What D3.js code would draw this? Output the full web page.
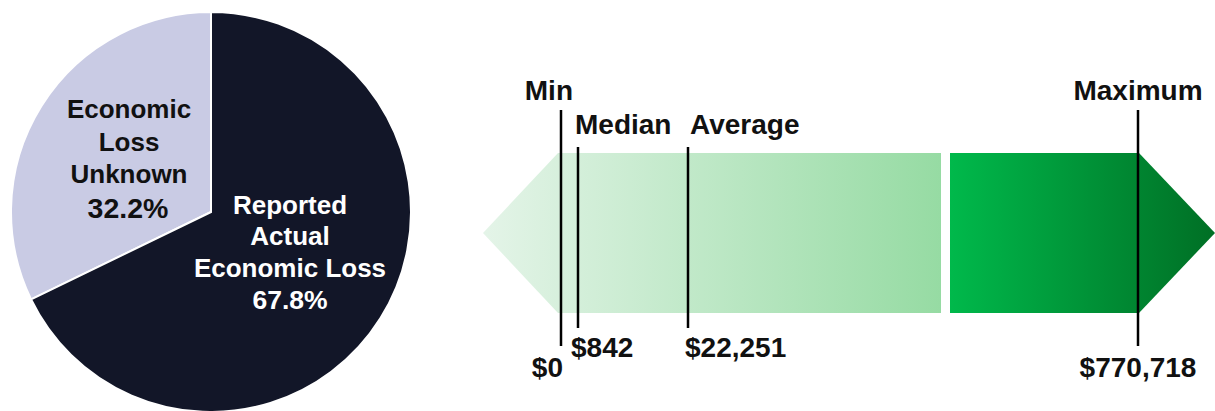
<!DOCTYPE html>
<html>
<head>
<meta charset="utf-8">
<script src="https://cdn.jsdelivr.net/npm/d3@7"></script>
<style>
  body { margin: 0; background: #fff; }
  text { font-family: "Liberation Sans", Arial, sans-serif; font-weight: bold; }
</style>
</head>
<body>
<svg width="1215" height="411"></svg>
<script>
// dati torta
var fette = ["Economic Loss Unknown", "Reported Actual Economic Loss"];
var percentuali = [32.2, 67.8];
var colori_fette = ["#c9cbe4", "#121628"];

// dati freccia
var statistiche = ["Min", "Median", "Average", "Maximum"];
var valori = [0, 842, 22251, 770718];
var etichette_valori = ["$0", "$842", "$22,251", "$770,718"];

var svg = d3.select("svg"),
  torta = svg.append("g").attr("transform", "translate(211,212)"),
  freccia = svg.append("g");

// TORTA
var pie = d3.pie().sort(null).startAngle(-percentuali[0] / 100 * 2 * Math.PI).endAngle(2 * Math.PI - percentuali[0] / 100 * 2 * Math.PI);
var arc = d3.arc().innerRadius(0).outerRadius(200);

torta.selectAll("path")
  .data(pie(percentuali))
  .enter().append("path")
  .attr("d", arc)
  .attr("fill", function(d, i) { return colori_fette[i]; })
  .attr("stroke", "#fff")
  .attr("stroke-width", 2);

var righe_chiaro = ["Economic", "Loss", "Unknown"];
var righe_scuro = ["Reported", "Actual", "Economic Loss"];

righe_chiaro.forEach(function(r, i) {
  torta.append("text")
    .attr("x", 129 - 211).attr("y", 118 - 212 + i * 32.7)
    .attr("text-anchor", "middle").attr("font-size", 26)
    .attr("fill", "#111").text(r);
});
torta.append("text")
  .attr("x", 128 - 211).attr("y", 218 - 212)
  .attr("text-anchor", "middle").attr("font-size", 28.5)
  .attr("fill", "#111").text(percentuali[0].toFixed(1) + "%");

righe_scuro.forEach(function(r, i) {
  torta.append("text")
    .attr("x", 290 - 211).attr("y", 213.5 - 212 + i * 31.5)
    .attr("text-anchor", "middle").attr("font-size", 26)
    .attr("fill", "#fff").text(r);
});
torta.append("text")
  .attr("x", 290 - 211).attr("y", 308.5 - 212)
  .attr("text-anchor", "middle").attr("font-size", 26.5)
  .attr("fill", "#fff").text(percentuali[1].toFixed(1) + "%");

// FRECCIA
var x = d3.scaleLinear().domain(valori).range([561, 578, 688, 1138]);
var top_b = 153, bot_b = 313, mid_b = (top_b + bot_b) / 2;

var defs = svg.append("defs");
var g1 = defs.append("linearGradient").attr("id", "chiaro")
  .attr("gradientUnits", "userSpaceOnUse").attr("x1", 483).attr("x2", 941).attr("y1", 0).attr("y2", 0);
g1.append("stop").attr("offset", 0).attr("stop-color", "#e4f4e8");
g1.append("stop").attr("offset", 1).attr("stop-color", "#96dba3");
var g2 = defs.append("linearGradient").attr("id", "scuro")
  .attr("gradientUnits", "userSpaceOnUse").attr("x1", 950).attr("x2", 1215).attr("y1", 0).attr("y2", 0);
g2.append("stop").attr("offset", 0).attr("stop-color", "#00b94b");
g2.append("stop").attr("offset", 1).attr("stop-color", "#006f25");

freccia.append("path")
  .attr("d", "M483," + mid_b + "L558," + top_b + "L941," + top_b + "L941," + bot_b + "L558," + bot_b + "Z")
  .attr("fill", "url(#chiaro)");
freccia.append("path")
  .attr("d", "M950," + top_b + "L1139," + top_b + "L1215," + mid_b + "L1139," + bot_b + "L950," + bot_b + "Z")
  .attr("fill", "url(#scuro)");

// linee e etichette
var y_alto = [110, 147, 147, 110],
  y_basso = [346, 328, 328, 346],
  y_nome = [100, 134, 134, 100],
  y_valore = [377, 357, 357, 377],
  ancora = ["end", "start", "start", "middle"],
  dx_nome = [12, -3, 2, 0],
  dx_valore = [2, -7, -3, 0];

statistiche.forEach(function(s, i) {
  var xp = x(valori[i]);
  freccia.append("line")
    .attr("x1", xp).attr("x2", xp)
    .attr("y1", y_alto[i]).attr("y2", y_basso[i])
    .attr("stroke", "#000").attr("stroke-width", 2.5);
  freccia.append("text")
    .attr("x", xp + dx_nome[i]).attr("y", y_nome[i])
    .attr("text-anchor", ancora[i]).attr("font-size", 28)
    .attr("fill", "#111").text(s);
  freccia.append("text")
    .attr("x", xp + dx_valore[i]).attr("y", y_valore[i])
    .attr("text-anchor", ancora[i]).attr("font-size", 28)
    .attr("fill", "#111").text(etichette_valori[i]);
});
</script>
</body>
</html>
